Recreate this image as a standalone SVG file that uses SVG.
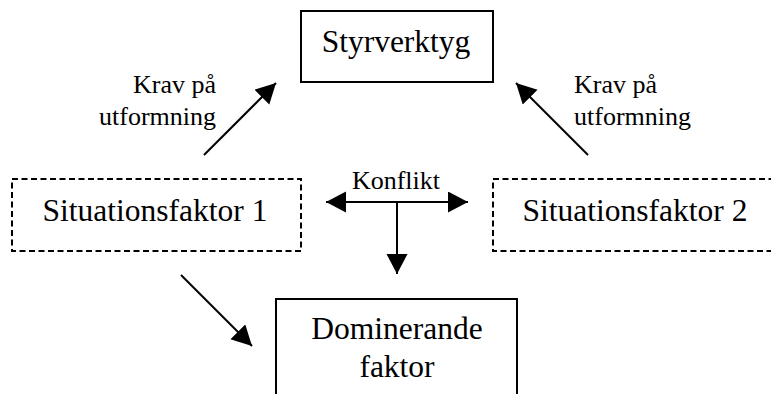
<svg xmlns="http://www.w3.org/2000/svg" width="771" height="394" viewBox="0 0 771 394">
  <style>
    .box { fill: #fff; stroke: #000; stroke-width: 2; }
    .dashed { fill: none; stroke: #000; stroke-width: 2; stroke-dasharray: 6 3.5; }
    .big { font-family: "Liberation Serif", "Times New Roman", serif; font-size: 31.5px; fill: #000; }
    .small { font-family: "Liberation Serif", "Times New Roman", serif; font-size: 26px; fill: #000; }
    .conn { stroke: #000; stroke-width: 2; fill: none; marker-end: url(#head); }
  </style>
  <defs>
    <marker id="head" markerUnits="userSpaceOnUse" markerWidth="21" markerHeight="22" refX="20" refY="10.5" orient="auto-start-reverse">
      <path d="M0,0 L20,10.5 L0,21 z" fill="#000"/>
    </marker>
  </defs>
  <rect width="771" height="394" fill="#fff"/>

  <g id="styrverktyg">
    <rect class="box" x="301" y="11" width="192" height="71"/>
    <text class="big" x="396" y="52" text-anchor="middle">Styrverktyg</text>
  </g>

  <g id="situationsfaktor1">
    <rect class="dashed" x="12" y="179" width="289" height="72"/>
    <text class="big" x="155" y="221" text-anchor="middle">Situationsfaktor 1</text>
  </g>

  <g id="situationsfaktor2">
    <rect class="dashed" x="493" y="179" width="289" height="72"/>
    <text class="big" x="635" y="221" text-anchor="middle">Situationsfaktor 2</text>
  </g>

  <g id="dominerande">
    <rect class="box" x="276" y="299" width="241" height="110"/>
    <text class="big" x="397" y="339" text-anchor="middle">Dominerande</text>
    <text class="big" x="397" y="377" text-anchor="middle">faktor</text>
  </g>

  <g id="connectors">
    <line class="conn" x1="204" y1="155" x2="276" y2="83"/>
    <line class="conn" x1="588" y1="155" x2="516" y2="83"/>
    <line class="conn" x1="181" y1="275" x2="252" y2="346"/>
    <line class="conn" x1="326" y1="202" x2="468" y2="202" marker-start="url(#head)"/>
    <line class="conn" x1="397" y1="202" x2="397" y2="274"/>
  </g>

  <g id="labels">
    <text class="small" x="216" y="93" text-anchor="end">Krav på</text>
    <text class="small" x="216" y="125" text-anchor="end">utformning</text>
    <text class="small" x="574" y="93">Krav på</text>
    <text class="small" x="574" y="125">utformning</text>
    <text class="small" x="396" y="189" text-anchor="middle">Konflikt</text>
  </g>
</svg>
